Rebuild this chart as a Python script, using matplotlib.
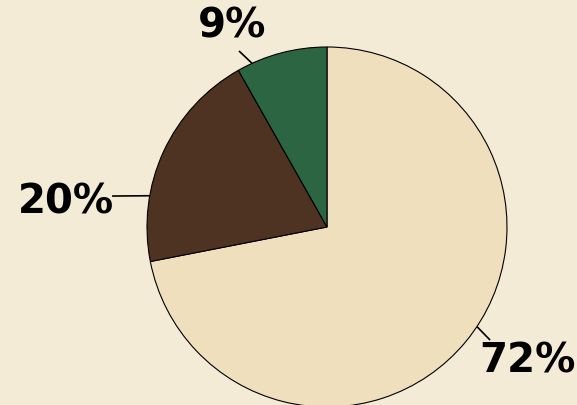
import matplotlib
matplotlib.use("Agg")
import matplotlib.pyplot as plt
import numpy as np

# Data
categories = ["Beige", "Brown", "Green"]
values = [72.0, 19.9, 8.2]
labels = ["72%", "20%", "9%"]
colors = ["#F0DFBC", "#4E3322", "#2C6541"]

# label placement (angle of leader on the arc, in degrees; label text position, radius units)
leader_angles = [-33.6, 170.0, 114.6]
leader_outer = [(0.906, -0.628), (-1.194, 0.172), (-0.489, 0.978)]
text_pos = [(1.111, -0.744), (-1.45, 0.139), (-0.528, 1.117)]

W, H, DPI = 577, 406, 100
cx, cy, R = 327, 228, 180  # pixel geometry

fig = plt.figure(figsize=(W / DPI, H / DPI), dpi=DPI)
fig.patch.set_facecolor("#F3EBD6")
ax = fig.add_axes([0, 0, 1, 1])
ax.set_facecolor("#F3EBD6")
ax.set_xlim(-cx / R, (W - cx) / R)
ax.set_ylim(-(H - cy) / R, cy / R)
ax.set_aspect("equal", adjustable="box")
ax.axis("off")

ax.pie(values, colors=colors, startangle=90, counterclock=False, radius=1.0,
       center=(0, 0), wedgeprops=dict(edgecolor="black", linewidth=0.8),
       frame=True)
ax.set_xlim(-cx / R, (W - cx) / R)
ax.set_ylim(-(H - cy) / R, cy / R)
ax.axis("off")

for lab, ang, outer, tp in zip(labels, leader_angles, leader_outer, text_pos):
    a = np.deg2rad(ang)
    x0, y0 = np.cos(a), np.sin(a)
    ax.plot([x0, outer[0]], [y0, outer[1]], color="black", lw=1.2, solid_capstyle="butt")
    ax.text(tp[0], tp[1], lab, ha="center", va="center", fontsize=29,
            fontweight="bold", color="black", family="DejaVu Sans")

fig.savefig("out.png", dpi=DPI, facecolor=fig.get_facecolor())
